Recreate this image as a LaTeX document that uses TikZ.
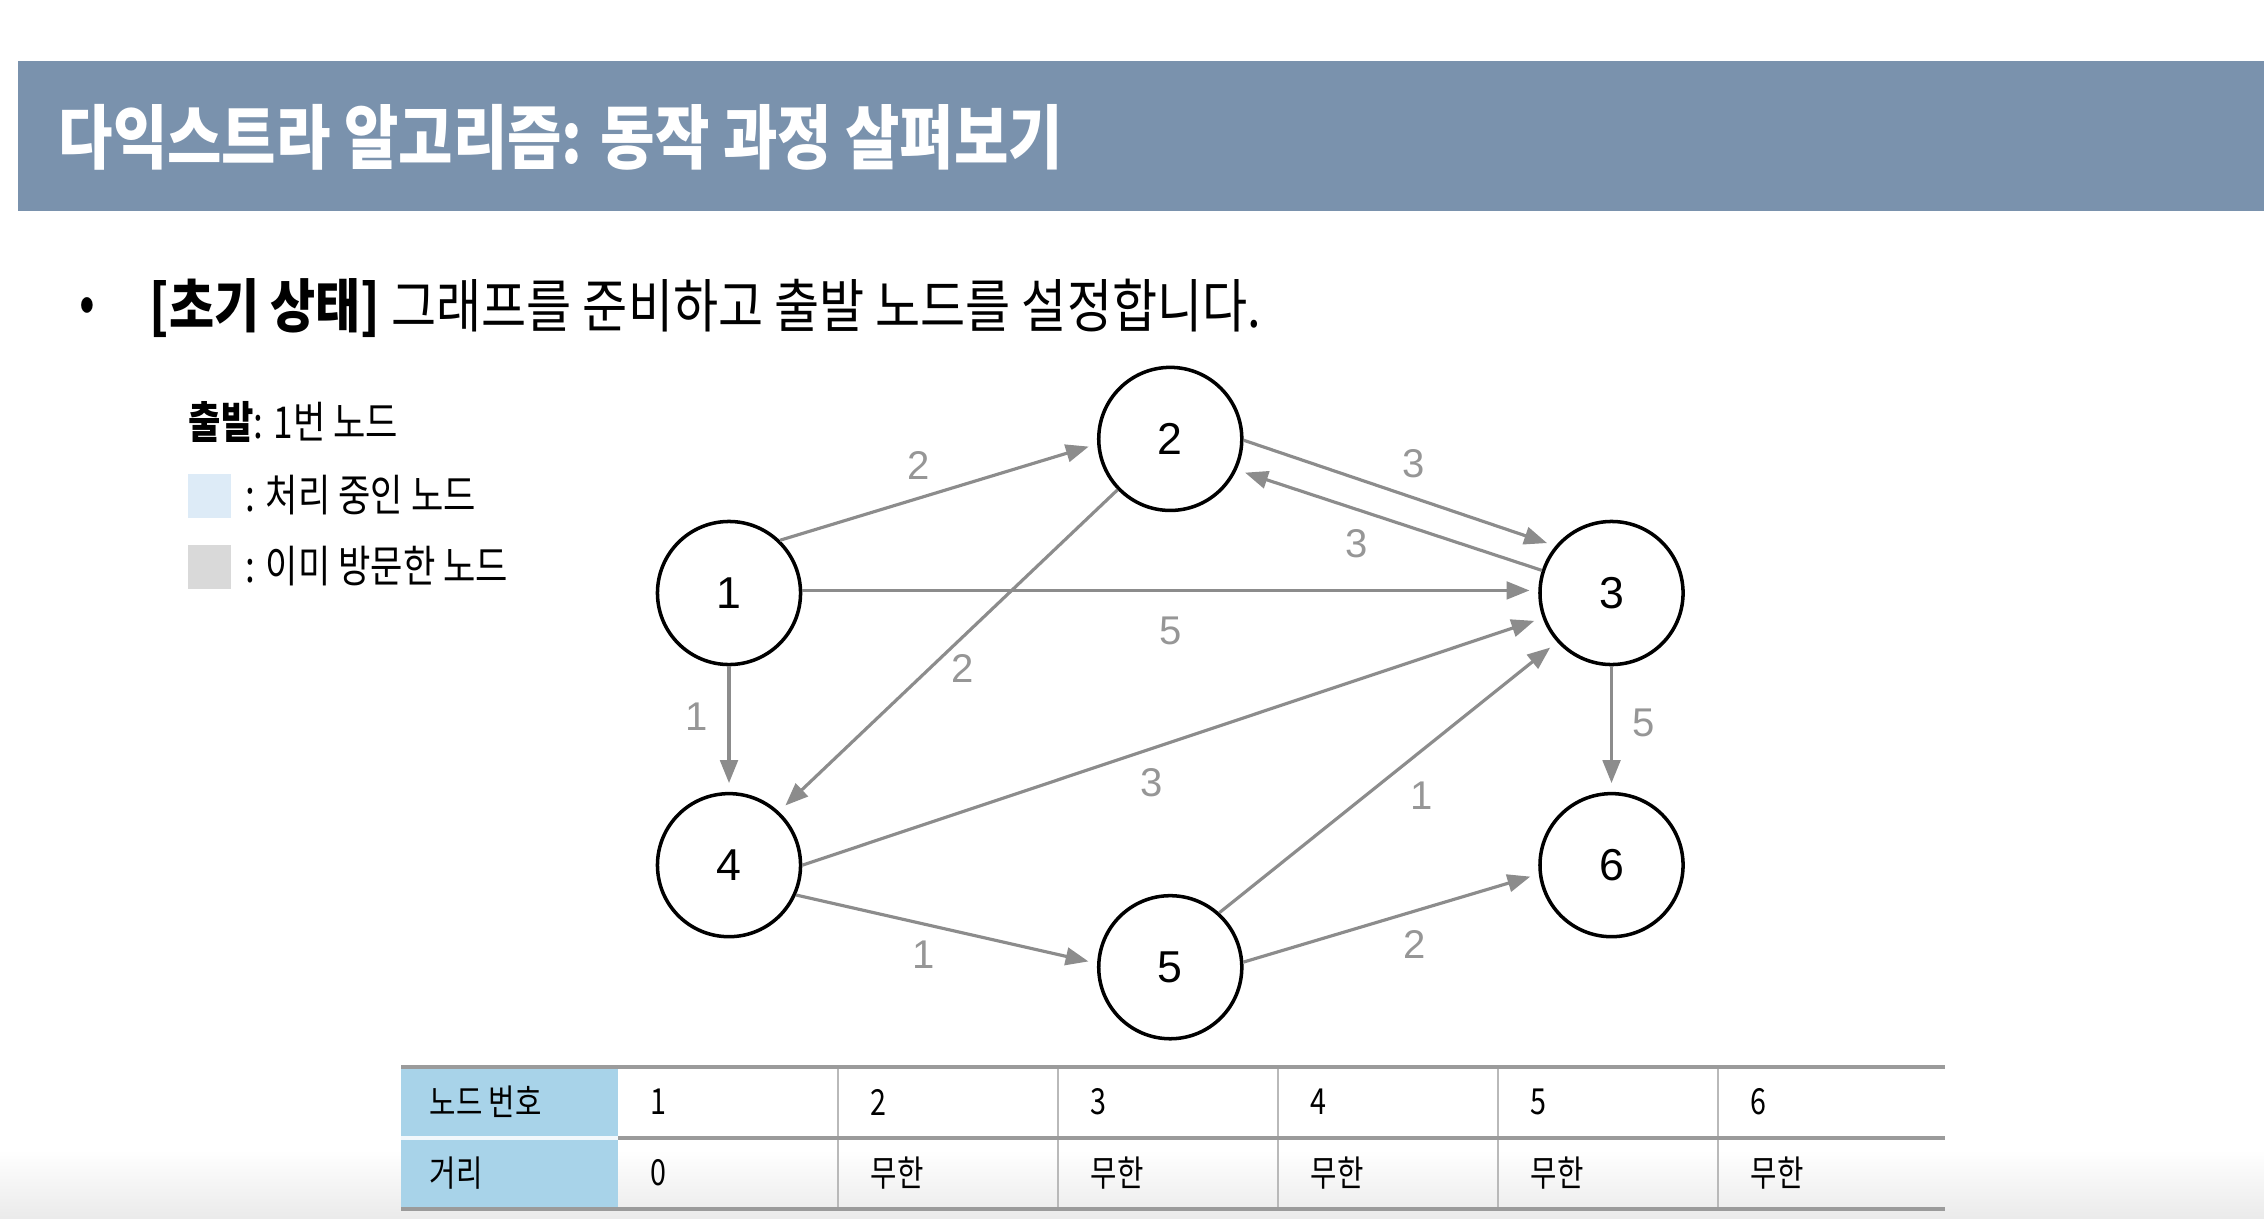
\documentclass[tikz,border=0pt]{standalone}
\usepackage{fontspec}
\setmainfont{Liberation Sans}
\newfontfamily\krfont[FakeStretch=0.8]{Noto Sans CJK KR}
\newfontfamily\krwide[FakeStretch=0.845]{Noto Sans CJK KR}
\usetikzlibrary{positioning, arrows.meta}

\definecolor{titlebar}{RGB}{122,146,173}
\definecolor{edgegray}{RGB}{140,140,140}
\definecolor{labelgray}{RGB}{150,150,150}
\definecolor{procblue}{RGB}{221,235,247}
\definecolor{visitgray}{RGB}{217,217,217}
\definecolor{headblue}{RGB}{168,211,233}
\definecolor{rulegray}{RGB}{155,155,155}

\begin{document}
\begin{tikzpicture}[x=0.01cm, y=-0.01cm, on grid, auto]
    \tikzset{
        vertex/.style={circle, draw=black, line width=1pt, minimum size=1.43cm, inner sep=0pt,
            font=\fontsize{12.7pt}{14pt}\selectfont},
        wedge/.style={color=edgegray, line width=0.9pt, shorten >=2.5pt,
            -{Triangle[length=6.5pt, width=5pt]}},
        weight/.style={text=labelgray, inner sep=3pt, font=\fontsize{11.4pt}{13pt}\selectfont},
        swatch/.style={minimum size=0.43cm, inner sep=0pt},
        legend/.style={anchor=west, inner sep=0pt, font=\krfont\fontsize{12.5pt}{15pt}\selectfont},
        cell/.style={anchor=west, inner sep=0pt, font=\krfont\fontsize{10.2pt}{12pt}\selectfont}
    }
    \useasboundingbox (0,0) rectangle (2264,1218);
    \shade[top color=white, bottom color=black!8] (0,1150) rectangle (2264,1218);

    % TITLE
    \fill[titlebar] (18,61) rectangle (2264,211);
    \node[anchor=west, inner sep=0pt, text=white, font=\krwide\bfseries\fontsize{19.9pt}{24pt}\selectfont]
        (title) at (58,137) {다익스트라 알고리즘: 동작 과정 살펴보기};

    \node[inner sep=0pt, font=\krfont\fontsize{16.5pt}{20pt}\selectfont] (bullet) at (87,310) {•};
    \node[anchor=west, inner sep=0pt, font=\krwide\fontsize{16.5pt}{20pt}\selectfont]
        (step) at (149,308) {\textbf{[초기 상태]} 그래프를 준비하고 출발 노드를 설정합니다.};

    % LEGEND
    \node[legend] (start) at (188,422) {\textbf{출발}: 1번 노드};
    \node[swatch, fill=procblue] (keyproc) at (209.5,496) {};
    \node[legend] (keyproctext) at (245,495) {: 처리 중인 노드};
    \node[swatch, fill=visitgray] (keyvisit) at (209.5,567) {};
    \node[legend] (keyvisittext) at (245,566) {: 이미 방문한 노드};

    % VERTICES
    \node[vertex] (n1) at (729,593) {1};
    \node[vertex] (n2) [above right=1.54cm and 4.41cm of n1] {2};
    \node[vertex] (n3) [right=8.82cm of n1] {3};
    \node[vertex] (n4) [below=2.72cm of n1] {4};
    \node[vertex] (n5) [below=5.28cm of n2] {5};
    \node[vertex] (n6) [below=2.72cm of n3] {6};

    % EDGES
    \path[wedge, every node/.style=weight]
        (n1.46)  edge node[pos=.51] {2} (n2.184)
        (n2.-1)  edge node[pos=.47] {3} (n3.140)
        (n3.162) edge node[pos=.53] {3} (n2.-25)
        (n1.2)   edge node[pos=.5, swap, inner sep=7pt] {5} (n3.178)
        (n2.224) edge node[pos=.5, inner sep=0.5pt] {2} (n4.47)
        (n1.270) edge node[pos=.4, swap, inner sep=5.5pt] {1} (n4.90)
        (n4.0)   edge node[pos=.44, swap] {3} (n3.200)
        (n5.48)  edge node[pos=.53, swap] {1} (n3.222)
        (n3.270) edge node[pos=.45, inner sep=5.5pt] {5} (n6.90)
        (n4.-24) edge node[pos=.5, swap] {1} (n5.177)
        (n5.4)   edge node[pos=.5, swap] {2} (n6.187);

    % DISTANCE TABLE
    \fill[headblue] (401,1067) rectangle (618,1209);
    \foreach \x in {838,1058,1278,1498,1718}
        \draw[rulegray!70, line width=0.5pt] (\x,1067) -- (\x,1209);
    \draw[rulegray, line width=0.9pt] (401,1067) -- (1945,1067);
    \draw[rulegray, line width=0.9pt] (618,1138) -- (1945,1138);
    \draw[white!85!headblue, line width=0.9pt] (401,1138) -- (618,1138);
    \draw[rulegray, line width=0.9pt] (401,1209) -- (1945,1209);
    \node[cell] (hnum) at (429,1102) {노드 번호};
    \node[cell] (hdist) at (429,1173) {거리};
    \foreach \i/\d in {1/0, 2/무한, 3/무한, 4/무한, 5/무한, 6/무한} {
        \node[cell] (num\i) at ({650+220*(\i-1)},1102) {\i};
        \node[cell] (dist\i) at ({650+220*(\i-1)},1173) {\d};
    }
\end{tikzpicture}
\end{document}
